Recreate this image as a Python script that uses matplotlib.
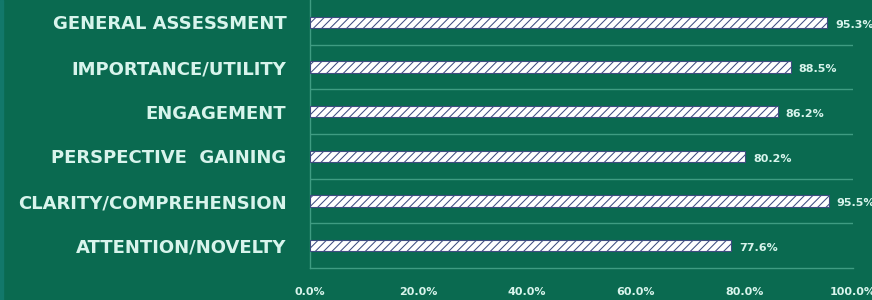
import matplotlib.pyplot as plt
from matplotlib.patches import Rectangle

# -----------------------
# Data
# -----------------------
categories = [
    "ATTENTION/NOVELTY",
    "CLARITY/COMPREHENSION",
    "PERSPECTIVE  GAINING",
    "ENGAGEMENT",
    "IMPORTANCE/UTILITY",
    "GENERAL ASSESSMENT",
]
scores = [77.6, 95.5, 80.2, 86.2, 88.5, 95.3]
x_ticks = [0, 20, 40, 60, 80, 100]
x_tick_labels = ["0.0%", "20.0%", "40.0%", "60.0%", "80.0%", "100.0%"]

# -----------------------
# Style
# -----------------------
BG = "#0a6a50"
TEXT = "#d8f4ec"
GRID = "#3f9c82"
HATCH = "#3e4d80"

plt.rcParams["hatch.linewidth"] = 0.75
plt.rcParams["hatch.color"] = HATCH

fig = plt.figure(figsize=(8.72, 3.0), dpi=100, facecolor=BG)
ax = fig.add_axes([310 / 872, 32 / 300, 543 / 872, 268 / 300], facecolor=BG)

# thin lighter strip at the left edge
fig.patches.append(Rectangle((0, 0), 3 / 872, 1, transform=fig.transFigure,
                             color="#12786a", zorder=0))

# -----------------------
# Plot
# -----------------------
ypos = list(range(len(categories)))
ax.barh(ypos, scores, height=0.25, color="white", edgecolor=HATCH,
        linewidth=0.8, hatch="////", zorder=3)

for y, v in zip(ypos, scores):
    ax.text(v + 1.4, y - 0.05, f"{v:.1f}%", va="center", ha="left",
            color=TEXT, fontsize=8, fontweight="bold")

ax.set_xlim(0, 100)
ax.set_ylim(-0.5, len(categories) - 0.5)

ax.set_yticks(ypos)
ax.set_yticklabels(categories, fontsize=13, fontweight="bold", color=TEXT)
ax.set_yticks([y + 0.5 for y in ypos[:-1]], minor=True)
ax.tick_params(axis="y", which="both", length=0, pad=17)

ax.set_xticks(x_ticks)
ax.set_xticklabels(x_tick_labels, fontsize=8, fontweight="bold", color=TEXT)
ax.tick_params(axis="x", length=0, pad=14)

ax.grid(True, axis="y", which="minor", color=GRID, linewidth=1.0, zorder=1)
ax.grid(False, axis="x")

for side in ["top", "right"]:
    ax.spines[side].set_visible(False)
for side in ["left", "bottom"]:
    ax.spines[side].set_color(GRID)
    ax.spines[side].set_linewidth(1.0)

plt.savefig("out.png", dpi=100, facecolor=BG)
